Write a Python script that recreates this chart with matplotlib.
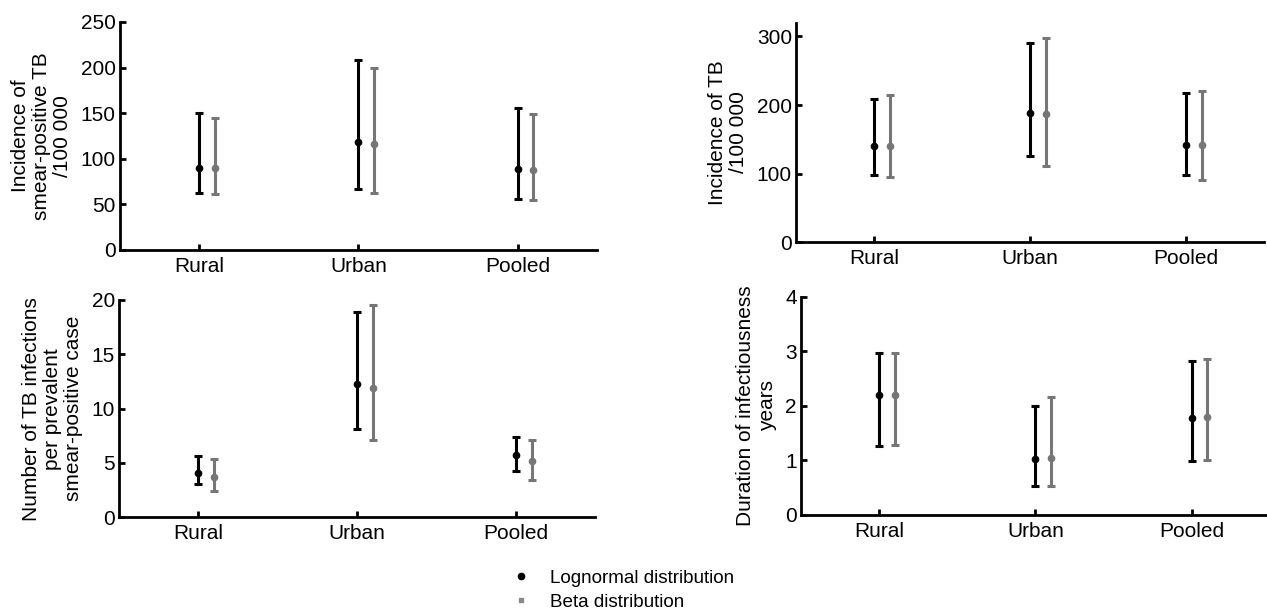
import matplotlib
matplotlib.use('Agg')
import matplotlib.pyplot as plt
from matplotlib.lines import Line2D

plt.rcParams['font.family'] = ['Liberation Sans', 'DejaVu Sans']

# settings on the x axis
groups = ['Rural', 'Urban', 'Pooled']

# incidence of smear-positive TB /100 000 (point, lower, upper)
ss_logn = [90, 118, 89]
ss_logn_lo = [62, 67, 56]
ss_logn_hi = [150, 208, 156]
ss_beta = [90, 116, 88]
ss_beta_lo = [61, 62, 55]
ss_beta_hi = [145, 200, 149]

# incidence of TB /100 000
tb_logn = [140, 189, 142]
tb_logn_lo = [98, 125, 98]
tb_logn_hi = [209, 291, 218]
tb_beta = [141, 187, 142]
tb_beta_lo = [95, 111, 91]
tb_beta_hi = [214, 297, 221]

# infections per prevalent smear-positive case
inf_logn = [4.1, 12.3, 5.7]
inf_logn_lo = [3.1, 8.1, 4.3]
inf_logn_hi = [5.6, 18.9, 7.4]
inf_beta = [3.7, 11.9, 5.2]
inf_beta_lo = [2.4, 7.1, 3.4]
inf_beta_hi = [5.4, 19.5, 7.1]

# duration of infectiousness, years
dur_logn = [2.2, 1.03, 1.78]
dur_logn_lo = [1.26, 0.54, 0.98]
dur_logn_hi = [2.97, 2.0, 2.83]
dur_beta = [2.2, 1.05, 1.8]
dur_beta_lo = [1.28, 0.54, 1.01]
dur_beta_hi = [2.96, 2.16, 2.85]

GREY = '#767676'
FS = 15


def panel(ax, logn, logn_lo, logn_hi, beta, beta_lo, beta_hi, ymax, yticks, ylabel):
    x = list(range(1, len(groups) + 1))
    xb = [i + 0.1 for i in x]
    for xs, m, lo, hi, col in [(x, logn, logn_lo, logn_hi, 'black'),
                               (xb, beta, beta_lo, beta_hi, GREY)]:
        err = [[m[i] - lo[i] for i in range(len(m))],
               [hi[i] - m[i] for i in range(len(m))]]
        ax.errorbar(xs, m, yerr=err, fmt='o', color=col, ms=4.5,
                    elinewidth=2.2, capsize=2.8, capthick=2.2, clip_on=False)
    ax.set_xlim(0.5, 3.5)
    ax.set_ylim(0, ymax)
    ax.set_xticks(x)
    ax.set_xticklabels(groups)
    ax.set_yticks(yticks)
    ax.spines['top'].set_visible(False)
    ax.spines['right'].set_visible(False)
    ax.spines['left'].set_linewidth(2)
    ax.spines['bottom'].set_linewidth(2)
    ax.tick_params(direction='in', length=4, width=2, labelsize=FS)
    ax.tick_params(axis='x', pad=5)
    ax.tick_params(axis='y', pad=3)
    ax.set_ylabel(ylabel, fontsize=FS, linespacing=1.15, labelpad=6)


fig = plt.figure(figsize=(12.67, 6.16), dpi=100)

ax1 = fig.add_axes([0.0947, 0.5942, 0.3765, 0.3701])
panel(ax1, ss_logn, ss_logn_lo, ss_logn_hi, ss_beta, ss_beta_lo, ss_beta_hi,
      250, [0, 50, 100, 150, 200, 250], 'Incidence of\nsmear-positive TB\n/100 000')

ax2 = fig.add_axes([0.6283, 0.6067, 0.3694, 0.3565])
panel(ax2, tb_logn, tb_logn_lo, tb_logn_hi, tb_beta, tb_beta_lo, tb_beta_hi,
      320, [0, 100, 200, 300], 'Incidence of TB\n/100 000')

ax3 = fig.add_axes([0.0939, 0.1602, 0.3757, 0.3528])
panel(ax3, inf_logn, inf_logn_lo, inf_logn_hi, inf_beta, inf_beta_lo, inf_beta_hi,
      20, [0, 5, 10, 15, 20], 'Number of TB infections\nper prevalent\nsmear-positive case')

ax4 = fig.add_axes([0.6322, 0.164, 0.370, 0.3544])
panel(ax4, dur_logn, dur_logn_lo, dur_logn_hi, dur_beta, dur_beta_lo, dur_beta_hi,
      4, [0, 1, 2, 3, 4], 'Duration of infectiousness\nyears')

handles = [Line2D([], [], ls='none', marker='o', ms=4.5, color='black'),
           Line2D([], [], ls='none', marker='s', ms=3.5, color='#8a8a8a')]
fig.legend(handles, ['Lognormal distribution', 'Beta distribution'],
           loc='upper left', bbox_to_anchor=(0.398, 0.088), frameon=False,
           fontsize=13.6, handlelength=1.0, handletextpad=1.0, labelspacing=0.36,
           borderaxespad=0)

fig.savefig('out.png', dpi=100)
